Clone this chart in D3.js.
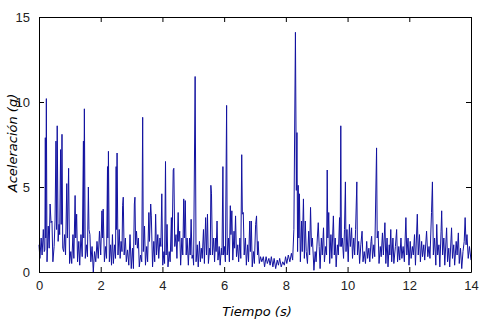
<!DOCTYPE html>
<html>
<head>
<meta charset="utf-8">
<script src="https://cdn.jsdelivr.net/npm/d3@7"></script>
<style>
  body { margin: 0; background: #fff; }
  svg { display: block; }
</style>
</head>
<body>
<div id="chart"></div>
<script>
// Vertices of the acceleration trace (time in s, acceleration in g)
const times = [
  0.00,0.03,0.07,0.10,0.14,0.17,0.19,0.205,0.22,0.238,0.26,0.30,0.33,0.36,0.39,0.42,0.45,0.49,0.52,0.55,0.57,0.59,0.62,0.65,0.67,0.70,0.72,0.745,0.77,0.80,0.83,0.86,0.90,0.92,0.96,0.99,
  1.03,1.06,1.10,1.13,1.17,1.19,1.22,1.25,1.29,1.32,1.36,1.40,1.44,1.45,1.47,1.50,1.54,1.57,1.60,1.62,1.65,1.68,1.72,1.76,1.80,1.84,1.88,1.92,1.96,
  2.00,2.04,2.06,2.08,2.12,2.16,2.19,2.22,2.23,2.25,2.28,2.32,2.35,2.38,2.41,2.45,2.48,2.50,2.51,2.53,2.56,2.60,2.63,2.66,2.69,2.71,2.73,2.76,2.80,2.83,2.87,2.91,2.95,2.99,
  3.03,3.06,3.09,3.11,3.13,3.16,3.19,3.22,3.25,3.29,3.33,3.36,3.38,3.42,3.45,3.49,3.52,3.56,3.58,3.62,3.64,3.68,3.72,3.75,3.78,3.81,3.85,3.88,3.92,3.95,3.98,
  4.01,4.05,4.07,4.10,4.12,4.15,4.18,4.22,4.25,4.29,4.31,4.35,4.37,4.40,4.44,4.47,4.51,4.53,4.56,4.59,4.63,4.66,4.69,4.71,4.74,4.77,4.80,4.84,4.88,4.90,4.93,4.96,4.99,
  5.01,5.06,5.09,5.13,5.16,5.20,5.23,5.26,5.29,5.33,5.36,5.40,5.43,5.46,5.49,5.53,5.55,5.57,5.59,5.62,5.66,5.69,5.72,5.74,5.77,5.80,5.84,5.87,5.91,5.93,5.96,5.98,
  6.01,6.04,6.08,6.10,6.14,6.17,6.20,6.22,6.25,6.28,6.32,6.34,6.37,6.40,6.44,6.47,6.51,6.54,6.57,6.59,6.62,6.65,6.69,6.72,6.76,6.79,6.83,6.85,6.88,6.91,6.95,6.98,
  7.02,7.05,7.08,7.10,7.14,7.18,7.22,7.27,7.31,7.36,7.40,7.45,7.49,7.53,7.58,7.62,7.67,7.72,7.76,7.80,7.85,7.90,7.95,7.99,
  8.03,8.08,8.13,8.18,8.22,8.26,8.31,8.34,8.36,8.38,8.40,8.42,8.44,8.47,8.51,8.53,8.57,8.60,8.63,8.66,8.70,8.74,8.77,8.80,8.83,8.86,8.91,8.95,8.98,
  9.02,9.05,9.08,9.11,9.15,9.18,9.22,9.25,9.29,9.32,9.34,9.36,9.39,9.42,9.46,9.49,9.54,9.57,9.60,9.63,9.67,9.70,9.74,9.76,9.78,9.80,9.83,9.87,9.90,9.93,9.95,9.98,
  10.02,10.06,10.09,10.13,10.16,10.20,10.23,10.26,10.30,10.32,10.36,10.39,10.43,10.47,10.50,10.54,10.58,10.62,10.65,10.69,10.72,10.76,10.78,10.81,10.85,10.88,10.94,10.96,10.99,
  11.02,11.06,11.09,11.13,11.16,11.21,11.24,11.28,11.31,11.35,11.37,11.40,11.43,11.47,11.50,11.55,11.59,11.62,11.66,11.69,11.73,11.76,11.80,11.84,11.89,11.92,11.96,11.99,
  12.03,12.06,12.10,12.13,12.17,12.20,12.26,12.29,12.33,12.36,12.40,12.43,12.47,12.50,12.56,12.60,12.64,12.67,12.72,12.75,12.78,12.82,12.86,12.89,12.92,12.96,12.99,
  13.03,13.05,13.08,13.12,13.15,13.21,13.24,13.28,13.31,13.37,13.40,13.44,13.47,13.52,13.55,13.59,13.62,13.66,13.70,13.74,13.78,13.81,13.84,13.87,13.91,13.95,14.00
];
const accel = [
  1.6,0.8,2.0,1.0,2.5,1.2,1.3,7.9,2.0,10.2,0.6,2.7,1.4,4.0,2.9,3.0,0.6,1.5,3.0,7.7,2.5,8.6,1.8,2.8,2.2,7.2,2.8,8.1,1.4,1.2,2.2,1.0,5.2,2.0,6.1,0.5,
  1.2,0.5,2.2,0.8,4.5,2.0,3.4,0.6,1.8,0.4,2.2,0.9,7.7,2.0,9.6,0.8,1.6,0.9,5.0,2.5,2.2,0.6,1.5,0.0,1.2,0.6,1.8,0.8,2.4,
  1.0,3.6,2.0,3.7,0.6,1.5,0.8,6.2,2.0,7.1,0.6,1.6,0.4,2.2,0.5,1.6,0.8,6.2,2.5,7.0,1.0,2.5,0.8,1.8,1.2,3.9,4.4,1.0,2.0,0.6,1.3,0.4,2.2,0.2,
  1.4,0.2,4.0,4.4,1.6,2.4,1.4,2.0,0.3,1.0,0.6,9.1,1.2,2.7,0.4,1.5,0.6,3.5,1.8,4.0,3.3,0.3,1.8,0.6,3.4,1.0,2.2,0.8,2.0,1.5,4.6,
  0.4,1.2,0.5,6.5,1.0,2.8,0.3,1.2,0.6,3.2,1.2,6.0,6.1,1.5,2.2,0.8,3.5,1.8,2.4,0.4,2.0,1.0,4.3,2.0,4.2,1.0,2.0,0.4,2.0,1.0,3.1,0.8,1.0,
  0.4,11.5,0.6,1.6,0.3,1.8,0.6,1.4,0.8,2.5,0.5,3.2,1.0,3.4,0.5,1.4,1.0,5.1,4.6,1.0,2.0,0.6,2.0,1.2,3.0,0.7,1.5,0.4,1.4,1.0,6.2,1.0,
  1.5,0.6,9.8,1.0,2.0,0.6,3.9,2.2,3.6,0.7,2.4,1.4,3.3,0.9,1.6,0.6,2.0,0.8,6.9,3.4,3.5,1.0,2.0,0.4,1.6,0.6,3.0,1.2,3.0,0.3,1.2,0.5,
  2.8,3.3,1.0,1.8,0.5,0.9,0.6,0.9,0.3,0.9,0.5,0.8,0.4,0.9,0.3,0.8,0.2,0.7,0.4,0.8,0.3,0.6,0.4,0.9,
  0.5,1.0,0.6,1.1,0.7,2.5,14.1,4.8,8.2,1.2,5.1,2.0,4.6,0.6,3.0,1.2,4.3,0.8,3.0,1.2,0.5,2.4,1.0,3.8,1.5,2.0,0.1,1.2,0.6,
  2.0,2.9,1.5,0.2,2.0,1.0,2.6,0.6,1.5,1.0,6.0,2.0,3.5,0.5,2.2,0.8,3.3,1.0,2.0,0.3,1.6,1.0,3.2,1.5,8.6,1.5,2.0,0.8,2.5,5.3,1.2,2.5,
  0.6,2.8,1.5,2.6,0.8,2.0,1.0,2.5,5.3,1.0,1.8,0.5,1.6,2.4,0.6,1.2,0.5,1.8,0.8,1.4,0.6,1.8,2.1,0.8,1.6,0.9,7.3,2.0,2.4,
  0.5,1.5,0.9,2.3,1.0,2.9,0.5,2.0,0.3,1.6,1.0,2.5,0.6,2.0,0.5,1.5,2.5,0.6,1.5,0.7,2.0,0.8,1.5,0.6,3.2,1.0,2.0,0.4,
  1.8,0.8,1.5,1.0,2.2,0.4,3.4,1.0,2.2,0.6,1.8,0.9,1.6,0.7,2.4,0.9,1.5,0.8,3.5,5.3,1.0,2.0,0.4,2.8,1.0,1.6,0.3,
  2.4,3.6,1.0,2.0,0.4,2.6,0.6,1.4,0.3,2.6,0.8,1.6,0.4,1.8,1.0,2.3,0.5,1.4,0.2,1.2,1.8,3.2,1.6,2.2,0.8,1.5,0.7
];
const xTicks = [0, 2, 4, 6, 8, 10, 12, 14];
const yTicks = [0, 5, 10, 15];

const W = 493, H = 327;
const margin = { top: 17, right: 22, bottom: 55, left: 39 };
const width = W - margin.left - margin.right;
const height = H - margin.top - margin.bottom;

const svg = d3.select("#chart").append("svg")
  .attr("width", W)
  .attr("height", H);

const g = svg.append("g")
  .attr("transform", `translate(${margin.left},${margin.top})`);

const x = d3.scaleLinear().domain([0, 14]).range([0, width]);
const y = d3.scaleLinear().domain([0, 15]).range([height, 0]);

// Data line
const points = times.map((t, i) => [t, accel[i]]);
g.append("path")
  .datum(points)
  .attr("fill", "none")
  .attr("stroke", "#1212a0")
  .attr("stroke-width", 1)
  .attr("d", d3.line().x(d => x(d[0])).y(d => y(d[1])));

// Axes with inward ticks (MATLAB-style box)
const fontAxis = "'Liberation Sans', Arial, sans-serif";
function styleAxis(sel) {
  sel.select(".domain").attr("stroke", "#000");
  sel.selectAll(".tick line").attr("stroke", "#000");
  sel.selectAll(".tick text")
    .attr("fill", "#222")
    .style("font-family", fontAxis)
    .style("font-size", "13px");
}

g.append("g")
  .attr("transform", `translate(0,${height})`)
  .call(d3.axisBottom(x).tickValues(xTicks).tickSizeInner(-5).tickSizeOuter(0).tickPadding(9))
  .call(styleAxis);

g.append("g")
  .call(d3.axisLeft(y).tickValues(yTicks).tickSizeInner(-5).tickSizeOuter(0).tickPadding(9))
  .call(styleAxis);

g.append("g")
  .call(d3.axisTop(x).tickValues(xTicks).tickSizeInner(-5).tickSizeOuter(0).tickFormat(""))
  .call(styleAxis);

g.append("g")
  .attr("transform", `translate(${width},0)`)
  .call(d3.axisRight(y).tickValues(yTicks).tickSizeInner(-5).tickSizeOuter(0).tickFormat(""))
  .call(styleAxis);

// Axis labels
const fontLabel = "'Comic Sans MS', 'Segoe Print', 'DejaVu Sans', sans-serif";
svg.append("text")
  .attr("x", 257)
  .attr("y", 316)
  .attr("text-anchor", "middle")
  .style("font-family", fontLabel)
  .style("font-style", "italic")
  .style("font-size", "13px")
  .attr("fill", "#000")
  .text("Tiempo (s)");

svg.append("text")
  .attr("transform", `translate(17,${margin.top + 126}) rotate(-90)`)
  .attr("text-anchor", "middle")
  .style("font-family", fontLabel)
  .style("font-style", "italic")
  .style("font-size", "13px")
  .attr("fill", "#000")
  .text("Aceleración (g)");
</script>
</body>
</html>
